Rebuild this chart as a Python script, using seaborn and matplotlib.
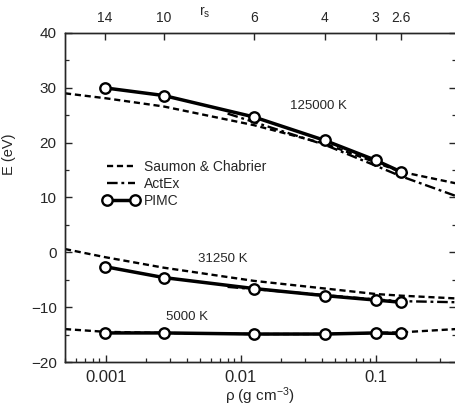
import numpy as np
import pandas as pd
import matplotlib
matplotlib.use("Agg")
import matplotlib.pyplot as plt
from matplotlib.lines import Line2D
from matplotlib.ticker import FixedLocator, NullLocator, LogLocator, MultipleLocator, NullFormatter
import seaborn as sns

# ---------------- data ----------------
rho_pimc = [0.000982, 0.00269, 0.01248, 0.0421, 0.0998, 0.1534]
E_pimc_125k = [30.0, 28.6, 24.7, 20.4, 16.8, 14.7]
E_pimc_31k = [-2.6, -4.6, -6.6, -7.9, -8.7, -9.1]
E_pimc_5k = [-14.7, -14.7, -14.9, -14.9, -14.7, -14.8]

rho_sc = [0.0005, 0.001, 0.00269, 0.0125, 0.0421, 0.1, 0.153, 0.39]
E_sc_125k = [29.0, 28.1, 26.6, 23.2, 19.8, 16.4, 14.7, 12.6]
E_sc_31k = [0.6, -0.9, -2.8, -5.2, -6.6, -7.6, -7.9, -8.4]
E_sc_5k = [-14.0, -14.5, -14.7, -14.9, -14.9, -14.7, -14.6, -14.0]

rho_ax = [0.008, 0.0421, 0.1, 0.153, 0.39]
E_ax_125k = [25.3, 19.6, 15.8, 13.9, 10.3]
E_ax_31k = [-6.3, -7.8, -8.6, -8.9, -9.1]

rs_labels = ["14", "10", "6", "4", "3", "2.6"]
temp_labels = ["125000 K", "31250 K", "5000 K"]
temp_label_pos = [(0.0374, 26.6), (0.0074, -1.2), (0.0040, -11.8)]

# ---------------- style ----------------
sns.set_style("ticks")
plt.rcParams["font.family"] = ["Liberation Sans", "DejaVu Sans"]
plt.rcParams["mathtext.fontset"] = "custom"
plt.rcParams["mathtext.rm"] = "Liberation Sans"
plt.rcParams["mathtext.it"] = "Liberation Sans:italic"
plt.rcParams["axes.linewidth"] = 1.0

fig = plt.figure(figsize=(4.55, 4.11), dpi=100)
ax = fig.add_axes([65 / 455, 49 / 411, 390.5 / 455, 329 / 411])

def frame(rho, E):
    return pd.DataFrame({"rho": rho, "E": E})

sc_style = dict(color="black", lw=1.7, linestyle=(0, (2.6, 1.6)))
ax_style = dict(color="black", lw=1.7, linestyle=(0, (4.5, 1.6, 1.2, 1.6)))
pimc_style = dict(color="black", lw=2.5, marker="o", markersize=7.5,
                  markerfacecolor="white", markeredgecolor="black",
                  markeredgewidth=1.7)

for E in [E_sc_125k, E_sc_31k, E_sc_5k]:
    sns.lineplot(data=frame(rho_sc, E), x="rho", y="E", ax=ax, **sc_style)
for E in [E_ax_125k, E_ax_31k]:
    sns.lineplot(data=frame(rho_ax, E), x="rho", y="E", ax=ax, **ax_style)
for E in [E_pimc_125k, E_pimc_31k, E_pimc_5k]:
    sns.lineplot(data=frame(rho_pimc, E), x="rho", y="E", ax=ax, **pimc_style)

ax.set_xscale("log")
ax.set_xlim(0.0005, 0.39)
ax.set_ylim(-20, 40)

ax.xaxis.set_major_locator(FixedLocator([0.001, 0.01, 0.1]))
ax.set_xticklabels(["0.001", "0.01", "0.1"])
ax.xaxis.set_minor_locator(LogLocator(base=10, subs=np.arange(2, 10)))
ax.xaxis.set_minor_formatter(NullFormatter())
ax.yaxis.set_major_locator(MultipleLocator(10))
ax.yaxis.set_minor_locator(MultipleLocator(5))
ax.set_yticklabels(["%d" % v if v >= 0 else "\u2212%d" % -v for v in ax.get_yticks()])

ax.tick_params(axis="both", which="major", direction="in", length=5, width=1.0,
               top=False, right=True, labelsize=11, pad=6)
ax.tick_params(axis="both", which="minor", direction="in", length=3, width=0.9,
               top=False, right=True)
ax.tick_params(axis="x", which="major", labelsize=12, pad=6)
for s in ax.spines.values():
    s.set_visible(True)
    s.set_linewidth(1.0)

ax.set_xlabel("ρ (g cm$^{-3}$)", fontsize=11, labelpad=0)
ax.set_ylabel("E (eV)", fontsize=10.5)
ax.yaxis.set_label_coords(-0.125, 0.63)

# top r_s axis
ax2 = ax.twiny()
ax2.set_xscale("log")
ax2.set_xlim(ax.get_xlim())
ax2.xaxis.set_major_locator(FixedLocator(rho_pimc))
ax2.set_xticklabels(rs_labels)
ax2.xaxis.set_minor_locator(NullLocator())
ax2.tick_params(axis="x", which="major", direction="in", length=5, width=1.0,
                labelsize=10, pad=6)
ax2.grid(False)
fig.text(205 / 455, 1 - 12 / 411, "r$_\\mathrm{s}$", fontsize=10,
         ha="center", va="center")

for lab, (x, y) in zip(temp_labels, temp_label_pos):
    ax.text(x, y, lab, fontsize=9.5, ha="center", va="center")

handles = [
    Line2D([], [], **sc_style),
    Line2D([], [], **ax_style),
    Line2D([], [], **pimc_style),
]
leg = ax.legend(handles, ["Saumon & Chabrier", "ActEx", "PIMC"],
                loc="upper left", bbox_to_anchor=(0.082, 0.63),
                frameon=False, fontsize=10, handlelength=2.6, numpoints=2,
                handletextpad=0.35, labelspacing=0.2, borderaxespad=0)

fig.savefig("out.png", dpi=100)
